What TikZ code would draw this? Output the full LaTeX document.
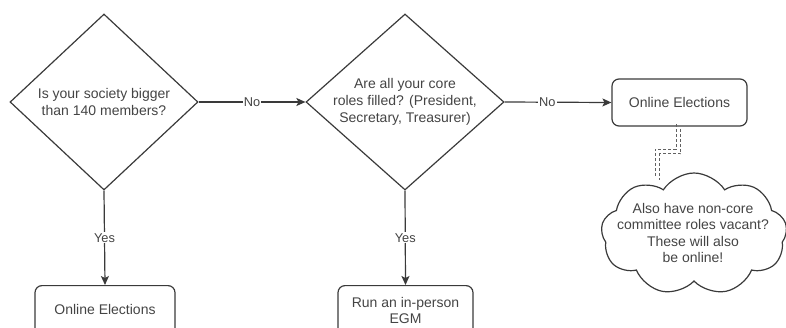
\documentclass[tikz,border=0pt]{standalone}
\usepackage{fontspec}
\setmainfont{Liberation Sans}
\usetikzlibrary{shapes.geometric,shapes.symbols,arrows.meta,calc}
\definecolor{ln}{HTML}{3A3A3A}
\definecolor{tx}{HTML}{444444}
\tikzset{
  base/.style={draw=ln, line width=1.2pt, text=tx, font=\fontsize{14}{17}\selectfont, align=center},
  decision/.style={base, diamond, inner sep=0pt},
  procbox/.style={base, rounded corners=7pt, minimum width=135pt, minimum height=47pt, inner sep=0pt},
  cloudnote/.style={base, cloud, cloud puffs=9, cloud puff arc=115, cloud ignores aspect, inner sep=0pt},
  flow/.style={draw=ln, line width=1.2pt, -{Stealth[length=9pt,width=8pt,inset=2pt]}},
  lbl/.style={fill=white, text=tx, inner sep=1pt, font=\fontsize{12.8}{14}\selectfont},
  linkline/.style={draw=ln!80, line width=1.1pt, dash pattern=on 3pt off 2pt}
}
\begin{document}
\begin{tikzpicture}[x=1pt,y=-1pt]
\useasboundingbox (0,0) rectangle (786,327);
\clip (0,0) rectangle (786,327);
\node[decision, minimum width=188pt, minimum height=176pt, aspect=1.07] (d1) at (104,102) {Is your society bigger\\than 140 members?};
\node[decision, minimum width=198pt, minimum height=176pt, aspect=1.125] (d2) at (405,102) {Are all your core\\roles filled? (President,\\Secretary, Treasurer)};
\node[procbox] (b3) at (679.5,102.5) {Online Elections};
\node[procbox, minimum width=140pt, minimum height=50pt, anchor=north] (b1) at (105,285) {};
\node[tx, font=\fontsize{14}{17}\selectfont] (t1) at (105,309) {Online Elections};
\node[procbox, anchor=north, minimum height=50pt] (b2) at (405.5,285) {};
\node[tx, font=\fontsize{14}{16}\selectfont, align=center] (t2) at (405.5,310) {Run an in-person\\EGM};
\node[cloudnote, minimum width=186pt, minimum height=122pt] (cl) at (694,234) {};
\node[tx, font=\fontsize{14}{16.5}\selectfont, align=center] (ct) at (693,233) {Also have non-core\\committee roles vacant?\\These will also\\be online!};
\draw[flow] (d1.east) -- node[lbl]{No} (d2.west);
\draw[flow] (d2.east) -- node[lbl, pos=0.4]{No} (b3.west);
\draw[flow] (d1.south) -- node[lbl]{Yes} (b1.north);
\draw[flow] (d2.south) -- node[lbl]{Yes} (b2.north);
\coordinate (k) at (657.5,178);
\draw[linkline, transform canvas={shift={(2.3pt,-2.3pt)}}] ([xshift=-1pt]b3.south) -- ++(0,25) -| (k);
\draw[linkline, transform canvas={shift={(-2.3pt,2.3pt)}}] ([xshift=-1pt]b3.south) -- ++(0,25) -| (k);
\end{tikzpicture}
\end{document}
